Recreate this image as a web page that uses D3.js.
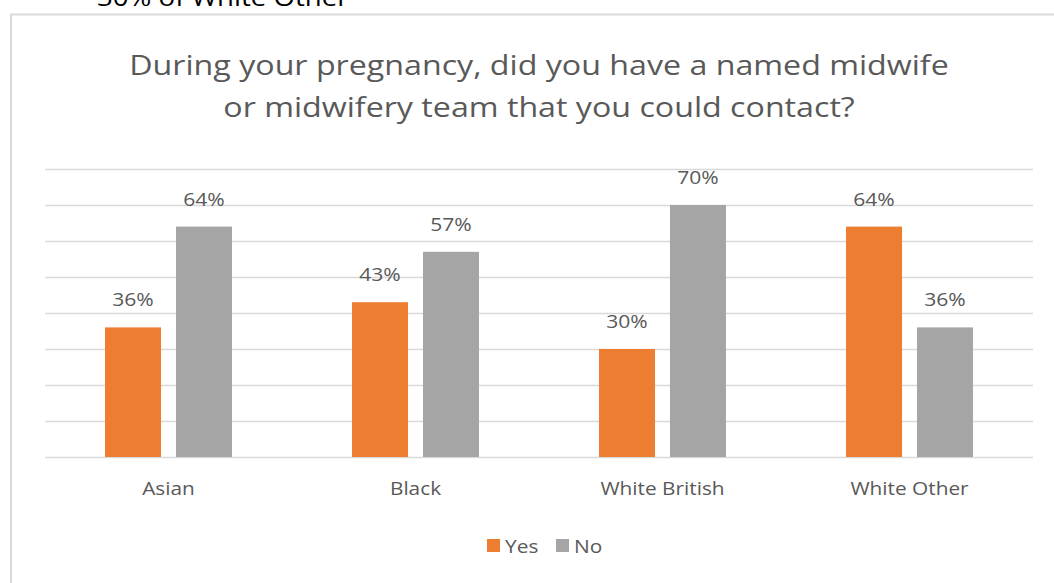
<!DOCTYPE html>
<html>
<head>
<meta charset="utf-8">
<script src="https://cdn.jsdelivr.net/npm/d3@7"></script>
<style>
  html, body { margin: 0; padding: 0; background: #fff; }
  svg { display: block; font-family: "Open Sans", sans-serif; }
</style>
</head>
<body>
<svg id="chart" width="1054" height="583"></svg>
<script>
// Survey responses by ethnic group (percent)
const categories = ["Asian", "Black", "White British", "White Other"];
const seriesNames = ["Yes", "No"];
const yesValues = [36, 43, 30, 64];
const noValues = [64, 57, 70, 36];
const yTicks = [0, 10, 20, 30, 40, 50, 60, 70, 80];
const titleLines = [
  "During your pregnancy, did you have a named midwife",
  "or midwifery team that you could contact?"
];
const headerText = "30% of White Other";

const colors = { Yes: "#ed7d31", No: "#a5a5a5" };
const textColor = "#595959";
const gridColor = "#d9d9d9";
// Text in this chart is set slightly wide
const stretch = 1.15;

const rows = categories.map((c, i) => ({ category: c, Yes: yesValues[i], No: noValues[i] }));

const svg = d3.select("#chart");

// Caption partly cut off above the chart frame
svg.append("text")
  .attr("transform", `translate(97,6) scale(${stretch},1)`)
  .attr("font-size", 24)
  .attr("fill", "#000")
  .text(headerText);

// Chart frame
svg.append("rect")
  .attr("x", 11).attr("y", 14.5)
  .attr("width", 1100).attr("height", 600)
  .attr("fill", "#fff")
  .attr("stroke", gridColor)
  .attr("stroke-width", 2);

// Title
svg.append("g").selectAll("text")
  .data(titleLines)
  .join("text")
  .attr("transform", (d, i) => `translate(539,${75 + i * 42}) scale(${stretch},1)`)
  .attr("text-anchor", "middle")
  .attr("font-size", 28)
  .attr("fill", textColor)
  .text(d => d);

const plot = { left: 45, right: 1033, top: 169, bottom: 457 };

const y = d3.scaleLinear().domain([0, 80]).range([plot.bottom, plot.top]);

const x0 = d3.scaleBand()
  .domain(categories)
  .range([plot.left, plot.right])
  .paddingInner(0.486)
  .paddingOuter(0.243);

const x1 = d3.scaleBand()
  .domain(seriesNames)
  .range([0, x0.bandwidth()])
  .paddingInner(0.211);

// Horizontal gridlines
svg.append("g")
  .attr("transform", `translate(${plot.left},0)`)
  .call(d3.axisLeft(y).tickValues(yTicks).tickSize(-(plot.right - plot.left)).tickFormat(""))
  .call(g => g.select(".domain").remove())
  .call(g => g.selectAll(".tick line").attr("stroke", gridColor).attr("stroke-width", 1.5));

// Bars
const groups = svg.append("g").selectAll("g")
  .data(rows)
  .join("g")
  .attr("transform", d => `translate(${x0(d.category)},0)`);

groups.selectAll("rect")
  .data(d => seriesNames.map(k => ({ key: k, value: d[k] })))
  .join("rect")
  .attr("x", d => x1(d.key))
  .attr("y", d => y(d.value))
  .attr("width", x1.bandwidth())
  .attr("height", d => y(0) - y(d.value))
  .attr("fill", d => colors[d.key]);

// Value labels
groups.selectAll("text")
  .data(d => seriesNames.map(k => ({ key: k, value: d[k] })))
  .join("text")
  .attr("transform", d => `translate(${x1(d.key) + x1.bandwidth() / 2},${y(d.value) - 21}) scale(1.11,1)`)
  .attr("text-anchor", "middle")
  .attr("font-size", 19)
  .attr("fill", textColor)
  .text(d => d.value + "%");

// Category axis labels
svg.append("g")
  .attr("transform", `translate(0,${plot.bottom})`)
  .call(d3.axisBottom(x0).tickSize(0))
  .call(g => g.select(".domain").remove())
  .call(g => g.selectAll(".tick text")
    .attr("y", null).attr("dy", null)
    .attr("transform", "translate(0,38) scale(1.095,1)")
    .attr("font-family", "Open Sans, sans-serif")
    .attr("font-size", 19)
    .attr("fill", textColor));

// Legend
const legend = svg.append("g").attr("transform", "translate(487,553)");
const legendOffsets = { Yes: 0, No: 69 };
const items = legend.selectAll("g")
  .data(seriesNames)
  .join("g")
  .attr("transform", d => `translate(${legendOffsets[d]},0)`);
items.append("rect")
  .attr("x", 0).attr("y", -14)
  .attr("width", 13).attr("height", 13)
  .attr("fill", d => colors[d]);
items.append("text")
  .attr("transform", "translate(18,0) scale(1.1,1)")
  .attr("font-size", 19)
  .attr("fill", textColor)
  .text(d => d);
</script>
</body>
</html>
